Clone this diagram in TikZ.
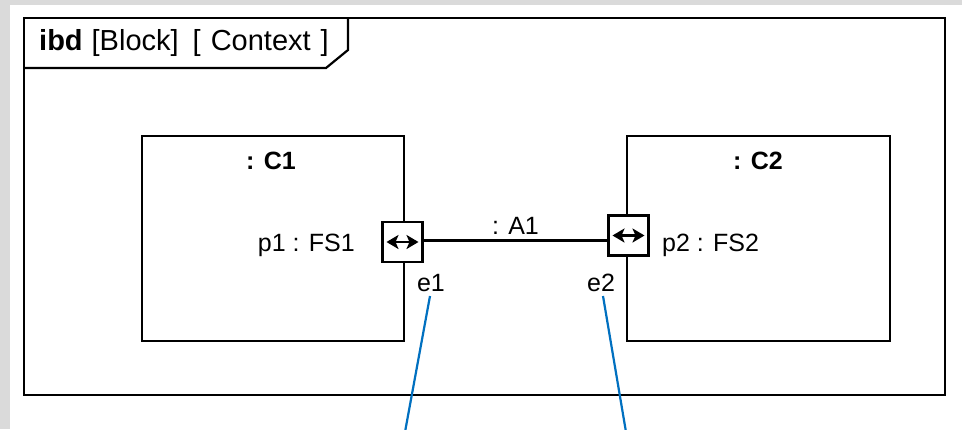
\documentclass[tikz,border=0pt]{standalone}
\usepackage{fontspec}
\setmainfont{Liberation Sans}
\usepackage{tikz}
\usetikzlibrary{arrows.meta, positioning, calc}
\definecolor{bggray}{RGB}{218,218,218}
\definecolor{linkblue}{RGB}{0,112,192}
\tikzset{
  part/.style={rectangle, draw=black, line width=2.2pt, minimum width=262pt,
               minimum height=205pt, inner sep=0pt},
  port/.style={rectangle, draw=black, fill=white, line width=2.2pt,
               minimum size=40pt, inner sep=0pt},
  lbl/.style={font=\fontsize{25}{29}\selectfont, inner sep=1pt},
  ttl/.style={lbl, font=\fontsize{25}{29}\selectfont\bfseries},
  flow/.style={line width=2.6pt,
               {Stealth[length=12pt,width=14pt,inset=3pt]}-{Stealth[length=12pt,width=14pt,inset=3pt]}},
  link/.style={draw=linkblue, line width=2.2pt}
}
\begin{document}
\begin{tikzpicture}[x=1pt, y=-1pt]
  % background
  \fill[bggray] (0,0) rectangle (962,429);
  \fill[white] (10,5) rectangle (962,429);
  \useasboundingbox (0,0) rectangle (962,429);
  % frame with tab
  \draw[line width=2.4pt] (24,18) rectangle (945,395);
  \draw[line width=2.2pt] (24,68) -- (326,68) -- (348,50) -- (348,18);
  \node[lbl, font=\fontsize{29}{33}\selectfont, anchor=west] (tab) at (38,43)
    {\textbf{ibd}\hspace{9pt}[Block]\hspace{14pt}[\hspace{10pt}Context\hspace{10pt}]};
  % parts
  \node[part] (c1) at (273,238.5) {};
  \node[part, minimum width=263pt] (c2) at (758.5,238.5) {};
  \node[ttl] (c1t) at (271,161) {: C1};
  \node[ttl] (c2t) at (758,161) {: C2};
  % ports
  \node[port] (p1) at (402.5,242) {};
  \node[port] (p2) at (628.5,235.5) {};
  \draw[flow] ([xshift=-16pt]p1.center) -- ([xshift=16pt]p1.center);
  \draw[flow] ([xshift=-16pt]p2.center) -- ([xshift=16pt]p2.center);
  \node[lbl, anchor=east] (p1t) at (356,245) {p1 : FS1};
  \node[lbl, anchor=west] (p2t) at (661,245) {p2 : FS2};
  % connector
  \draw[line width=2.2pt] (p1.east |- 0,240.5) -- (p2.west |- 0,240.5)
    node[lbl, midway, above=4pt] (a1) {: A1};
  % ends
  \node[lbl] (e1) at (431,283) {e1};
  \node[lbl] (e2) at (601,283) {e2};
  \coordinate (e1end) at (405,432);
  \coordinate (e2end) at (626,432);
  \draw[link] (430,296) -- (e1end);
  \draw[link] (603,296) -- (e2end);
\end{tikzpicture}
\end{document}
